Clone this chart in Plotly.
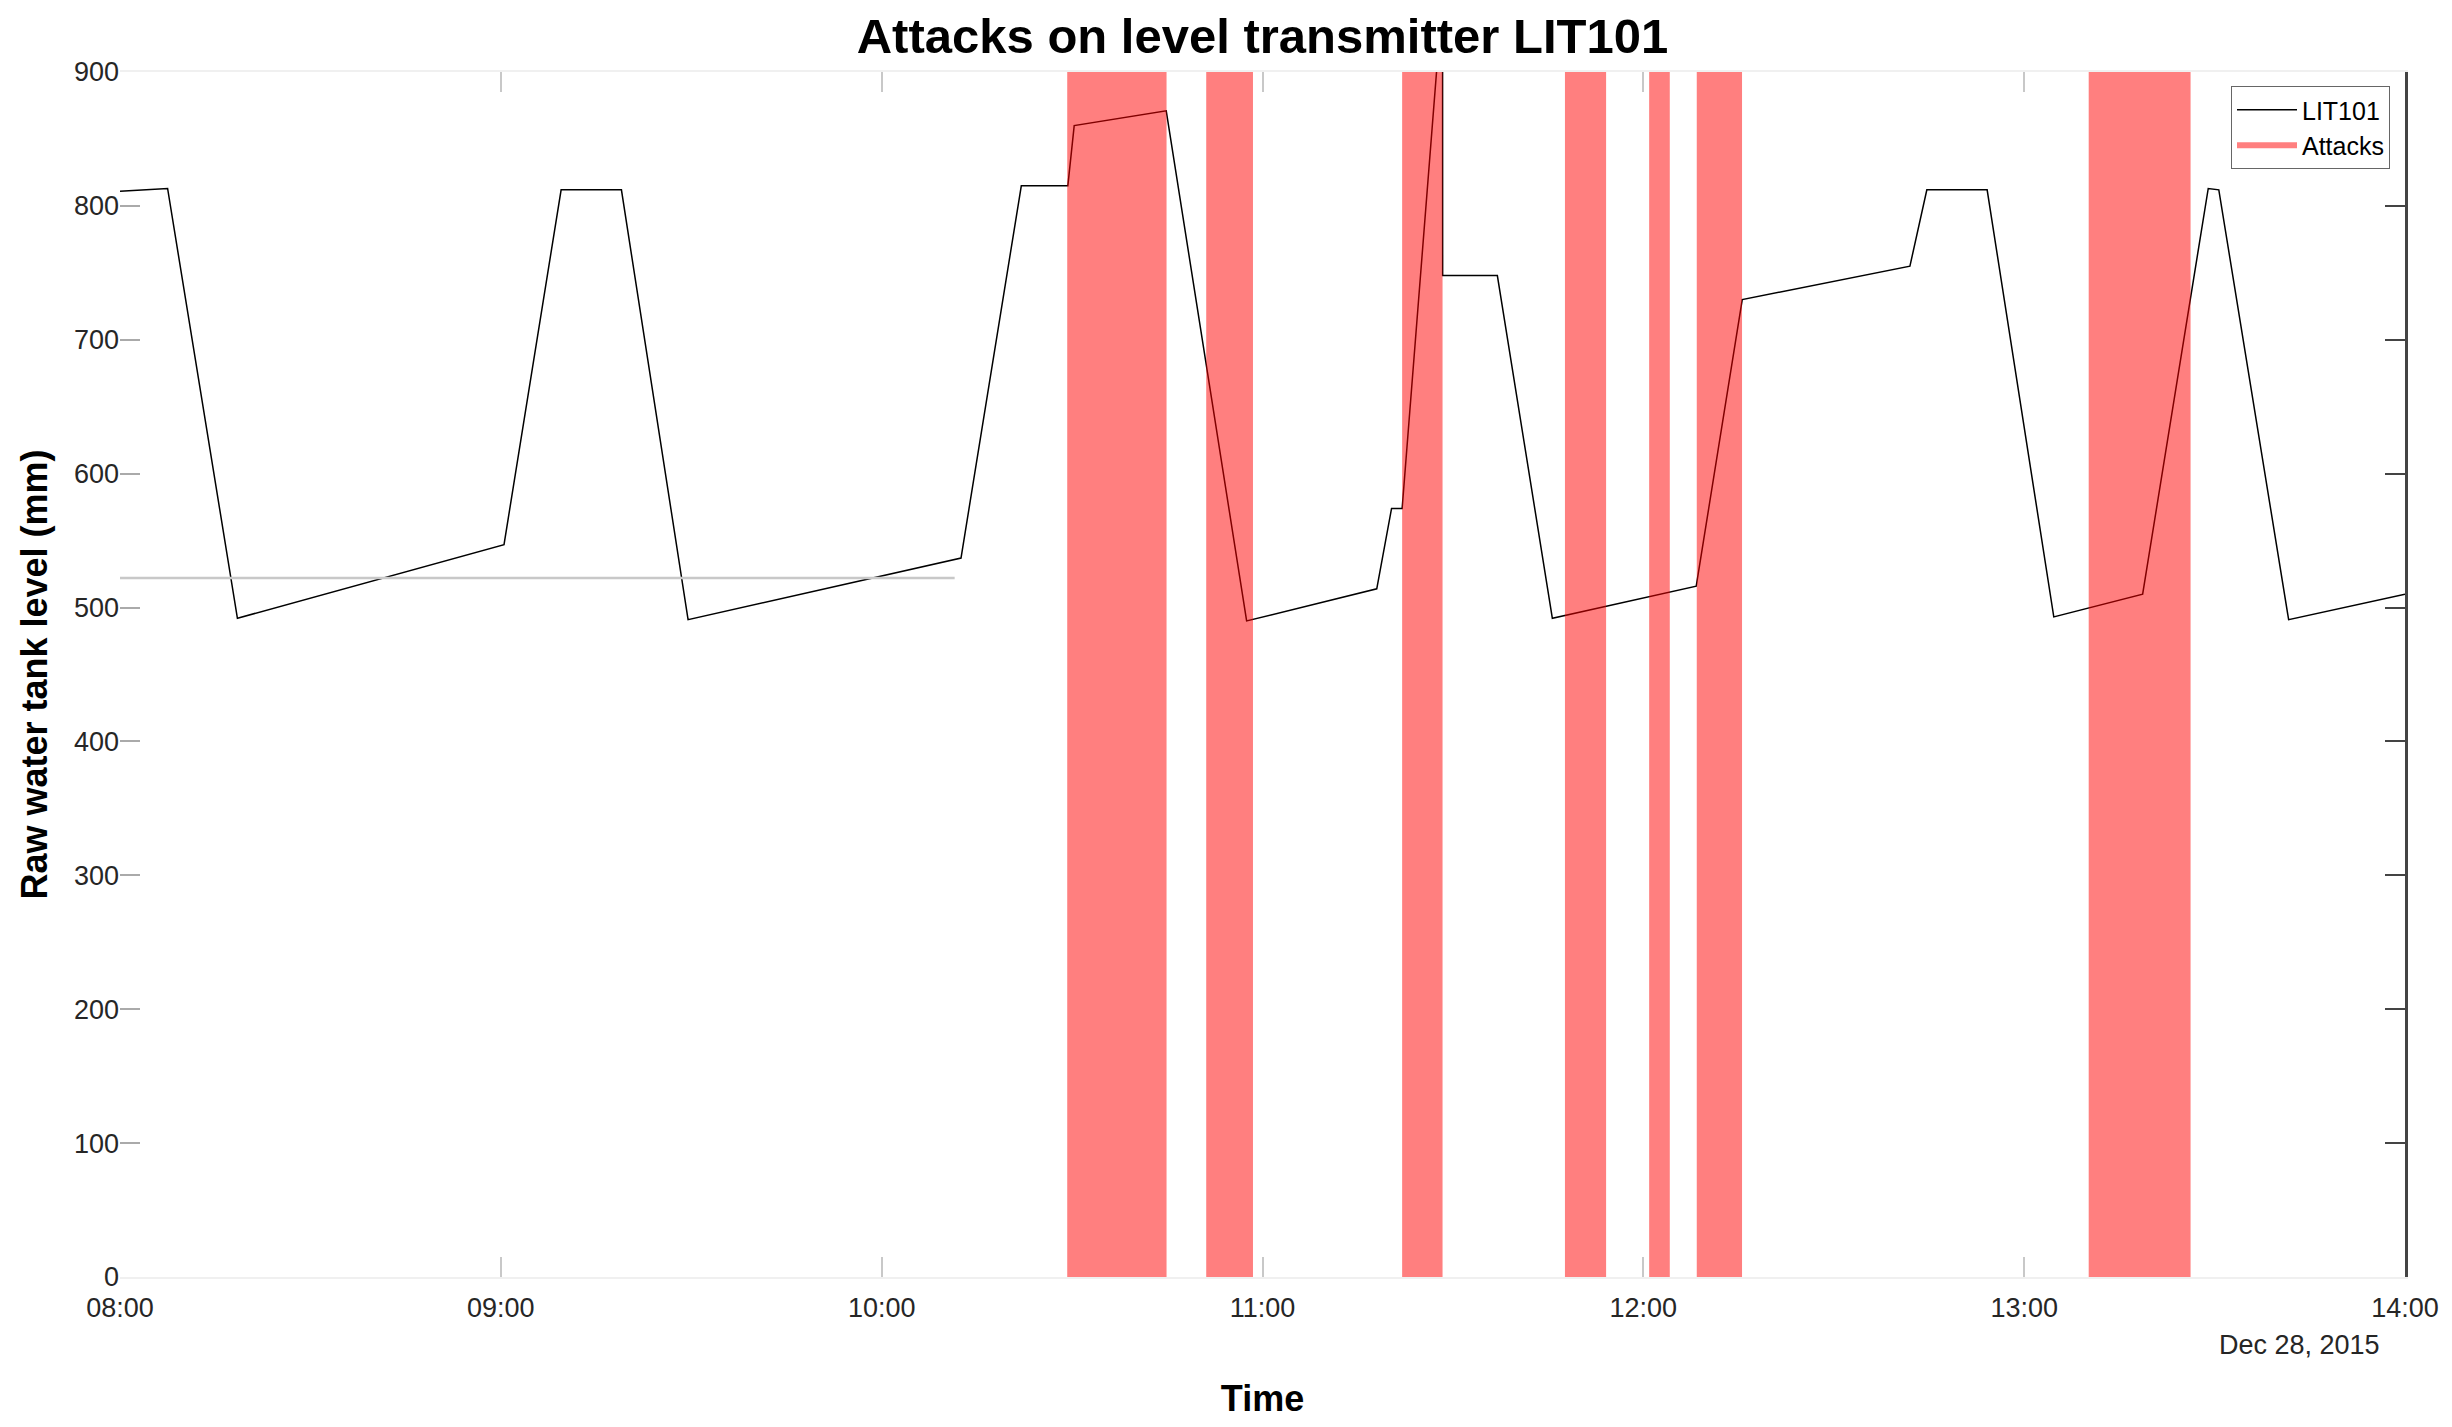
import plotly.graph_objects as go

DAY = "2015-12-28 "

# LIT101 readings (time, mm)
lit_time = ["08:00:00", "08:07:30", "08:18:30", "09:00:30", "09:09:30", "09:19:00",
            "09:29:30", "10:12:30", "10:22:00", "10:29:20", "10:30:20", "10:44:50",
            "10:57:30", "11:18:00", "11:20:20", "11:22:00", "11:28:22", "11:28:23",
            "11:37:00", "11:45:40", "12:08:20", "12:15:35", "12:42:00", "12:44:40",
            "12:54:10", "13:04:40", "13:18:40", "13:29:00", "13:30:40", "13:41:40",
            "14:00:00"]
lit_level = [811, 813, 492, 547, 812, 812,
             491, 537, 815, 815, 860, 871,
             490, 514, 574, 574, 957, 748,
             748, 492, 516, 730, 755, 812,
             812, 493, 510, 813, 812, 491,
             510]

# grey reference line
ref_time = ["08:00:00", "10:11:30"]
ref_level = [522, 522]

# attack windows
attack_start = ["10:29:14", "10:51:08", "11:22:00", "11:47:39", "12:00:55", "12:08:25", "13:10:10"]
attack_end = ["10:44:53", "10:58:30", "11:28:22", "11:54:08", "12:04:10", "12:15:33", "13:26:13"]

y_top = 900

fig = go.Figure()

fig.add_trace(go.Scatter(
    x=[DAY + t for t in lit_time], y=lit_level, mode="lines", name="LIT101",
    line=dict(color="black", width=1.5)
))

fig.add_trace(go.Scatter(
    x=[DAY + t for t in ref_time], y=ref_level, mode="lines", showlegend=False,
    line=dict(color="#c8c8c8", width=2.5), hoverinfo="skip"
))

# attack rectangles as one filled polygon trace
ax, ay = [], []
for s, e in zip(attack_start, attack_end):
    ax += [DAY + s, DAY + s, DAY + e, DAY + e, DAY + s, None]
    ay += [0, y_top, y_top, 0, 0, None]
fig.add_trace(go.Scatter(
    x=ax, y=ay, mode="none", fill="toself", name="Attacks",
    fillcolor="rgba(255,0,0,0.5)"
))

# dummy trace so the right-hand axis is drawn
fig.add_trace(go.Scatter(
    x=[DAY + "08:00:00"], y=[0], yaxis="y2", mode="markers", showlegend=False,
    marker=dict(opacity=0), hoverinfo="skip"
))

font_fam = "Liberation Sans, Arial, sans-serif"

# page body has an 8px margin, so the figure sits at (8, 8)
fig.update_layout(
    width=2436, height=1411,
    paper_bgcolor="white", plot_bgcolor="white",
    margin=dict(l=112, r=39, t=64, b=142),
    font=dict(family=font_fam, size=27, color="#262626"),
    title=dict(text="<b>Attacks on level transmitter LIT101</b>", x=0.5, xref="paper",
               y=1 - 28 / 1411, yref="container", yanchor="middle",
               font=dict(size=49, color="black")),
    showlegend=True,
    legend=dict(x=(2390 - 120) / 2285, y=(1277 - 86) / 1205, xanchor="right", yanchor="top",
                bgcolor="white", bordercolor="#666", borderwidth=1,
                font=dict(size=25, color="black"), itemwidth=60,
                tracegroupgap=0),
    xaxis=dict(
        range=[DAY + "08:00:00", DAY + "14:00:00"], type="date",
        dtick=3600000, tickformat="%H:%M",
        ticks="inside", ticklen=20, tickwidth=1.5, tickcolor="#c8c8c8",
        ticklabelstandoff=6,
        showline=True, linecolor="#f0f0f0", linewidth=2, mirror="ticks",
        showgrid=False, zeroline=False,
        title=dict(text="<b>Time</b>", font=dict(size=36, color="black"), standoff=63),
        automargin=False,
    ),
    yaxis=dict(
        range=[0, y_top], dtick=100,
        ticks="inside", ticklen=20, tickwidth=1.5, tickcolor="#aaaaaa",
        showline=False, showgrid=False, zeroline=False,
        title=dict(text="<b>Raw water tank level (mm)</b>", font=dict(size=36, color="black"),
                   standoff=15),
        automargin=False,
    ),
    yaxis2=dict(
        range=[0, y_top], dtick=100, overlaying="y", side="right",
        ticks="inside", ticklen=20, tickwidth=1.5, tickcolor="#444444",
        showline=True, linecolor="#444444", linewidth=2.5,
        showticklabels=False, showgrid=False, zeroline=False,
    ),
    annotations=[dict(
        text="Dec 28, 2015", xref="paper", yref="paper", x=(2382 - 120) / 2285,
        y=-(1345 - 1277) / 1205, xanchor="right", yanchor="middle",
        showarrow=False, font=dict(size=27, color="#262626")
    )],
)

fig.write_html("out.html")
